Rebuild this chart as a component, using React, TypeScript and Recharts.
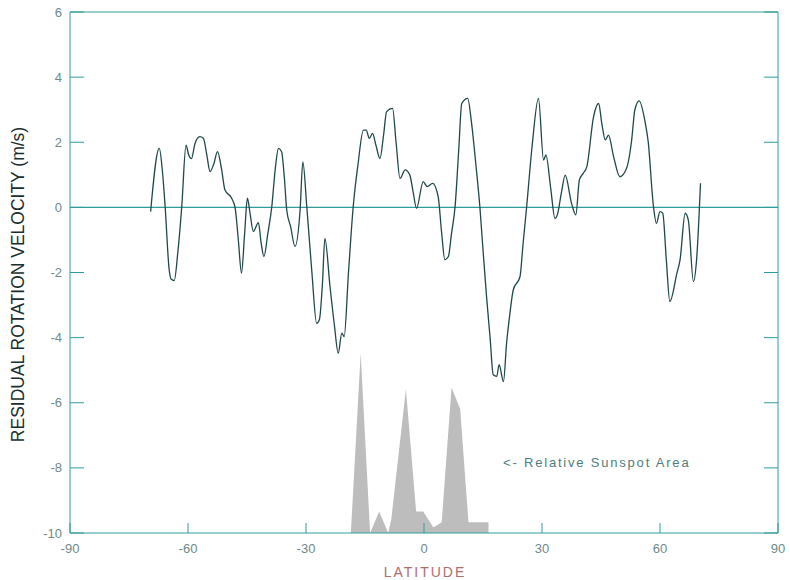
import React from 'react';
import {
  ComposedChart,
  Line,
  Area,
  XAxis,
  YAxis,
  ReferenceLine,
  ReferenceDot,
} from 'recharts';

// residual rotation velocity (m/s) against latitude (deg)
const latitude = [
  -69.5, -67.3, -66.5, -65.8, -64.8, -64.3, -63.5, -62.6, -61.6, -60.5, -59.8, -59.1,
  -58.2, -57.0, -56.1, -55.2, -54.4, -53.4, -52.5, -51.5, -50.6, -48.9, -48.0, -47.2,
  -46.4, -45.6, -44.9, -44.2, -43.4, -42.1, -41.4, -40.7, -39.7, -38.7, -37.8, -37.0,
  -36.2, -35.5, -34.9, -33.9, -32.8, -31.5, -30.8, -29.8, -28.5, -27.3, -26.6, -25.8,
  -25.2, -23.9, -22.8, -21.8, -20.9, -20.3, -19.2, -18.0, -16.8, -15.4, -14.7, -13.9,
  -13.1, -12.2, -11.2, -10.3, -9.5, -8.0, -7.1, -6.1, -4.8, -3.6, -2.8, -1.9,
  -0.2, 0.8, 2.2, 3.6, 4.5, 5.3, 6.2, 7.0, 7.9, 8.8, 9.6, 11.1,
  12.1, 13.2, 14.2, 15.0, 15.9, 16.8, 17.6, 18.5, 19.1, 20.2, 21.0, 21.8,
  22.7, 24.4, 25.2, 26.1, 27.5, 29.1, 30.4, 31.0, 32.2, 33.3, 33.9, 35.0,
  35.9, 37.5, 38.6, 39.5, 40.5, 41.4, 43.1, 44.4, 45.2, 46.1, 46.9, 48.2,
  49.8, 51.5, 52.8, 53.6, 54.7, 56.2, 57.0, 58.3, 59.1, 60.0, 60.7, 61.6,
  62.5, 64.3, 65.1, 66.4, 67.2, 68.5, 69.3, 70.3,
];
const velocity = [
  -0.13, 1.81, 1.1, 0.0, -1.9, -2.2, -2.25, -1.4, 0.0, 1.91, 1.6, 1.5,
  1.97, 2.17, 2.12, 1.6, 1.1, 1.35, 1.71, 1.2, 0.53, 0.28, -0.03, -1.0,
  -2.02, -0.8, 0.28, -0.2, -0.74, -0.47, -1.1, -1.51, -0.8, 0.02, 1.2, 1.81,
  1.71, 0.9, -0.08, -0.6, -1.2, -0.08, 1.4, 0.02, -2.0, -3.56, -3.45, -2.3,
  -0.95, -2.43, -3.6, -4.48, -3.86, -3.97, -2.0, 0.02, 1.3, 2.37, 2.37, 2.12,
  2.27, 1.9, 1.5, 2.2, 2.94, 3.04, 2.0, 0.89, 1.15, 0.99, 0.5, -0.03,
  0.79, 0.64, 0.74, 0.33, -0.8, -1.61, -1.51, -0.8, 0.02, 1.7, 3.19, 3.35,
  2.58, 1.3, 0.02, -1.3, -2.74, -4.0, -5.14, -5.19, -4.83, -5.35, -4.17, -3.3,
  -2.53, -2.13, -1.1, 0.02, 1.9, 3.35, 1.45, 1.61, 0.6, -0.34, -0.23, 0.5,
  0.99, 0.13, -0.23, 0.84, 1.05, 1.25, 2.78, 3.19, 2.58, 2.07, 2.22, 1.56,
  0.94, 1.2, 2.07, 2.99, 3.27, 2.63, 2.02, 0.07, -0.49, -0.13, -0.18, -1.6,
  -2.89, -2.02, -1.61, -0.18, -0.39, -2.28, -1.61, 0.74,
];

// relative sunspot area (peak = 1)
const spotLatitude = [-18.6, -16.1, -13.7, -11.4, -9.1, -8.3, -4.6, -2.0, -0.2, 2.4, 4.5, 7.0, 9.2, 11.3, 16.4, 16.4];
const spotArea = [0, 1.0, 0, 0.12, 0, 0.08, 0.8, 0.12, 0.12, 0.03, 0.06, 0.81, 0.69, 0.06, 0.06, 0];

const xTicks = [-90, -60, -30, 0, 30, 60, 90];
const yTicks = [-10, -8, -6, -4, -2, 0, 2, 4, 6];

const velocityData = latitude.map((lat, i) => ({ lat, v: velocity[i] }));
const spotData = spotLatitude.map((lat, i) => ({ lat, s: spotArea[i] }));

const AXIS = '#2f9c9c';
const TICK_TEXT = '#6f8a8a';
const FONT = '"Liberation Sans", Arial, sans-serif';
const Y_AXIS_WIDTH = 70;

// left ticks point inward; the axis sits at the right edge of its box
const LeftTick = ({ y, payload }: any) => (
  <g>
    <line x1={Y_AXIS_WIDTH} x2={Y_AXIS_WIDTH + 14} y1={y} y2={y} stroke={AXIS} />
    <text x={Y_AXIS_WIDTH - 8} y={y + 4.5} textAnchor="end" fontSize={13} fill={TICK_TEXT} fontFamily={FONT}>
      {payload.value}
    </text>
  </g>
);

const RightTick = ({ x, y }: any) => <line x1={x - 14} x2={x} y1={y} y2={y} stroke={AXIS} />;

const BottomTick = ({ x, y, payload }: any) => (
  <g>
    <line x1={x} x2={x} y1={y} y2={y - 10} stroke={AXIS} />
    <text x={x} y={y + 20} textAnchor="middle" fontSize={13} fill={TICK_TEXT} fontFamily={FONT}>
      {payload.value}
    </text>
  </g>
);

export default function App() {
  return (
    <div style={{ position: 'absolute', left: 0, top: 0, width: 790, height: 580, background: '#fff' }}>
      <ComposedChart width={790} height={580} margin={{ top: 12, right: 11, bottom: 0, left: 0 }}>
        <XAxis
          dataKey="lat"
          type="number"
          domain={[-90, 90]}
          ticks={xTicks}
          allowDataOverflow
          height={47}
          stroke={AXIS}
          tickLine={false}
          tickSize={0}
          tickMargin={0}
          tick={<BottomTick />}
          label={({ viewBox }: any) => (
            <text
              x={viewBox.x + viewBox.width / 2 + 1}
              y={viewBox.y + 44}
              textAnchor="middle"
              fontSize={14}
              letterSpacing={2}
              fill="#b06e6e"
              fontFamily={FONT}
            >
              LATITUDE
            </text>
          )}
        />
        <YAxis
          yAxisId="v"
          type="number"
          domain={[-10, 6]}
          ticks={yTicks}
          allowDataOverflow
          width={Y_AXIS_WIDTH}
          stroke={AXIS}
          tickLine={false}
          tickSize={0}
          tickMargin={0}
          tick={<LeftTick />}
          label={({ viewBox }: any) => (
            <text
              x={24}
              y={viewBox.y + viewBox.height / 2 + 12}
              transform={`rotate(-90, 24, ${viewBox.y + viewBox.height / 2 + 12})`}
              textAnchor="middle"
              fontSize={17.5}
              fill="#1a2e2e"
              fontFamily={FONT}
            >
              RESIDUAL ROTATION VELOCITY (m/s)
            </text>
          )}
        />
        <YAxis
          yAxisId="r"
          orientation="right"
          type="number"
          domain={[-10, 6]}
          ticks={yTicks}
          allowDataOverflow
          width={1}
          stroke={AXIS}
          tickLine={false}
          tickSize={0}
          tickMargin={0}
          tick={<RightTick />}
        />
        <YAxis yAxisId="s" orientation="right" hide type="number" domain={[0, 2.9]} allowDataOverflow />
        <Area
          yAxisId="s"
          data={spotData}
          dataKey="s"
          type="linear"
          fill="#bdbdbd"
          fillOpacity={1}
          stroke="none"
          isAnimationActive={false}
        />
        <ReferenceLine yAxisId="r" y={0} stroke={AXIS} strokeWidth={1.2} />
        <ReferenceLine yAxisId="v" y={6} stroke={AXIS} />
        <Line
          yAxisId="v"
          data={velocityData}
          dataKey="v"
          type="monotoneX"
          stroke="#1f4848"
          strokeWidth={1.3}
          dot={false}
          isAnimationActive={false}
        />
        <ReferenceDot
          yAxisId="v"
          x={20.1}
          y={-7.84}
          r={0}
          fill="none"
          stroke="none"
          label={({ viewBox }: any) => (
            <text
              x={viewBox.x + viewBox.width / 2}
              y={viewBox.y + viewBox.height / 2 + 4.5}
              textAnchor="start"
              fontSize={13}
              letterSpacing={1.8}
              fill="#4f7c7c"
              fontFamily={FONT}
            >
              {'<- Relative Sunspot Area'}
            </text>
          )}
        />
      </ComposedChart>
    </div>
  );
}
